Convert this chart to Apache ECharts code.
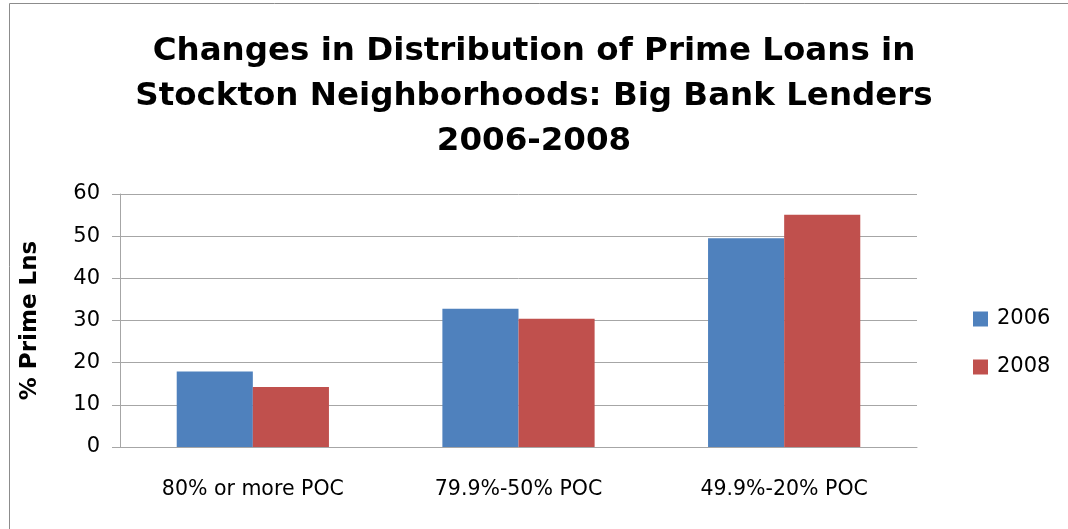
<!DOCTYPE html>
<html>
<head>
<meta charset="utf-8">
<script src="https://cdn.jsdelivr.net/npm/echarts@6/dist/echarts.min.js"></script>
<style>
html,body{margin:0;padding:0;background:#fff;}
#chart{width:1068px;height:529px;}
</style>
</head>
<body>
<div id="chart"></div>
<script>
const titleText = "Changes in Distribution of Prime Loans in\nStockton Neighborhoods: Big Bank Lenders\n2006-2008";
const categories = ["80% or more POC", "79.9%-50% POC", "49.9%-20% POC"];
const seriesNames = ["2006", "2008"];
const values2006 = [17.9, 32.8, 49.5];
const values2008 = [14.2, 30.4, 55.1];
const yTicks = [0, 10, 20, 30, 40, 50, 60];
const yAxisName = "% Prime Lns";

const chart = echarts.init(document.getElementById('chart'), null, {renderer: 'canvas'});
const gridColor = '#a6a6a6';
chart.setOption({
  animation: false,
  backgroundColor: '#fff',
  graphic: [{
    type: 'rect', silent: true,
    shape: {x: 9.5, y: 3.5, width: 1100, height: 600},
    style: {fill: 'none', stroke: '#8c8c8c', lineWidth: 1}
  }],
  title: {
    text: titleText,
    left: 'center',
    top: 24,
    textStyle: {
      fontFamily: 'DejaVu Sans', fontWeight: 'bold', fontSize: 32.5,
      lineHeight: 45, color: '#000'
    }
  },
  legend: {
    orient: 'vertical',
    left: 968,
    top: 303,
    itemWidth: 15,
    itemHeight: 15,
    itemGap: 26,
    icon: 'rect',
    data: seriesNames,
    textStyle: {fontFamily: 'DejaVu Sans', fontSize: 21, color: '#000', lineHeight: 22, padding: [0,0,0,4]}
  },
  grid: {left: 120, right: 151, top: 194, bottom: 82, containLabel: false},
  xAxis: {
    type: 'category',
    data: categories,
    axisLine: {show: true, lineStyle: {color: gridColor, width: 1}},
    axisTick: {show: false},
    axisLabel: {fontFamily: 'DejaVu Sans', fontSize: 20.5, color: '#000', margin: 32}
  },
  yAxis: {
    type: 'value',
    min: yTicks[0],
    max: yTicks[yTicks.length - 1],
    interval: 10,
    name: yAxisName,
    nameLocation: 'middle',
    nameGap: 78,
    nameTextStyle: {fontFamily: 'DejaVu Sans', fontWeight: 'bold', fontSize: 23, color: '#000'},
    axisLine: {show: true, lineStyle: {color: gridColor, width: 1}},
    axisTick: {show: true, length: 8, lineStyle: {color: gridColor}},
    axisLabel: {fontFamily: 'DejaVu Sans', fontSize: 21, color: '#000', margin: 20},
    splitLine: {show: true, lineStyle: {color: gridColor, width: 1}}
  },
  series: [
    {name: seriesNames[0], type: 'bar', data: values2006, barGap: '0%', barCategoryGap: '42.7%',
     itemStyle: {color: '#4F81BD'}},
    {name: seriesNames[1], type: 'bar', data: values2008, barGap: '0%', barCategoryGap: '42.7%',
     itemStyle: {color: '#C0504D'}}
  ]
});
</script>
</body>
</html>
